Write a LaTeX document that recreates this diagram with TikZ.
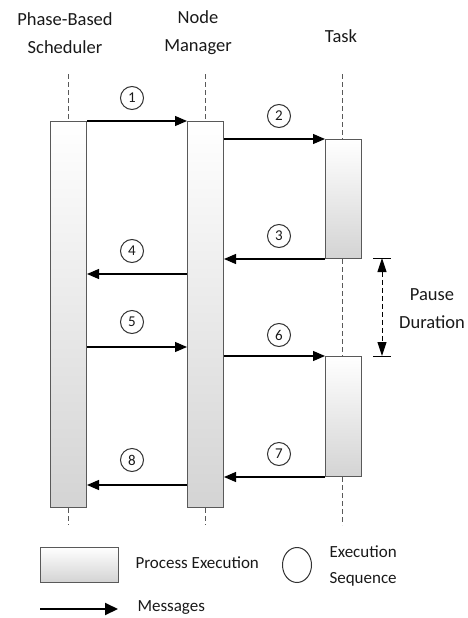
\documentclass[tikz,border=0pt]{standalone}
\usepackage{fontspec}
\setmainfont{Carlito}
\usetikzlibrary{arrows.meta,shapes.geometric}
\begin{document}
\begin{tikzpicture}[x=1pt,y=-1pt,
  every node/.style={text=black!90},
  bar/.style={draw=black!65, line width=1pt, top color=white, bottom color=black!17, minimum width=36pt, inner sep=0pt, anchor=north west},
  life/.style={draw=black!65, line width=0.8pt, dash pattern=on 5pt off 3pt},
  msg/.style={line width=1.2pt, -{Triangle[length=12pt,width=10pt]}},
  seq/.style={circle, draw=black!80, line width=1pt, minimum size=23pt, inner sep=0pt, font=\fontsize{15}{15}\selectfont},
  head/.style={font=\fontsize{18.5}{28}\selectfont, align=center},
  leg/.style={font=\fontsize{17}{26}\selectfont, align=left, anchor=west},
]
\useasboundingbox (0,0) rectangle (468,618);

% headers
\node[head] (hs) at (65,33) {Phase-Based\\Scheduler};
\node[head] (hn) at (198,33) {Node\\Manager};
\node[head] (ht) at (341,36) {Task};

% lifelines
\coordinate (ls) at (68,74);
\coordinate (ln) at (205,74);
\coordinate (lt) at (342,74);
\coordinate (lsb) at (68,525);
\coordinate (lnb) at (205,525);
\coordinate (ltb) at (342,525);

% bars
\node[bar, minimum height=386pt] (S) at (50,121) {};
\node[bar, minimum height=386pt] (N) at (187,121) {};
\node[bar, minimum height=119pt] (T1) at (325,139) {};
\node[bar, minimum height=120pt] (T2) at (325,356) {};

\draw[life] (ls) -- (ls |- S.north);
\draw[life] (ln) -- (ln |- N.north);
\draw[life] (lt) -- (lt |- T1.north);
\draw[life] (lt |- T1.south) -- (lt |- T2.north);
\draw[life] (ls |- S.south) -- (lsb);
\draw[life] (ln |- N.south) -- (lnb);
\draw[life] (lt |- T2.south) -- (ltb);

% message levels
\coordinate (m4) at (0,274);
\coordinate (m5) at (0,347);
\coordinate (m8) at (0,485);

\draw[msg] (S.north east) -- (N.north west);
\draw[msg] (N.east |- T1.north) -- (T1.north west);
\draw[msg] (T1.south west) -- (N.east |- T1.south);
\draw[msg] (N.west |- m4) -- (S.east |- m4);
\draw[msg] (S.east |- m5) -- (N.west |- m5);
\draw[msg] (N.east |- T2.north) -- (T2.north west);
\draw[msg] (T2.south west) -- (N.east |- T2.south);
\draw[msg] (N.west |- m8) -- (S.east |- m8);

% sequence labels
\node[seq] (c1) at (132,98) {1};
\node[seq] (c2) at (279,116) {2};
\node[seq] (c3) at (279,236) {3};
\node[seq] (c4) at (132,251) {4};
\node[seq] (c5) at (132,322) {5};
\node[seq] (c6) at (279,335) {6};
\node[seq] (c7) at (279,454) {7};
\node[seq] (c8) at (132,460) {8};

% pause duration
\coordinate (p1) at (382,258);
\coordinate (p2) at (382,356);
\draw[line width=1pt] (373,258) -- (391,258);
\draw[line width=1pt] (373,356) -- (391,356);
\draw[line width=1pt, dash pattern=on 5pt off 3pt, {Triangle[length=14pt,width=9pt]}-{Triangle[length=14pt,width=9pt]}] (p1) -- (p2);
\node[head] (pd) at (432,309) {Pause\\Duration};

% legend
\node[draw=black!65, line width=1pt, top color=white, bottom color=black!17, minimum width=78pt, minimum height=35pt, inner sep=0pt] (lb) at (79,564.5) {};
\node[leg] (lbt) at (132,563) {Process Execution};
\node[ellipse, draw=black!80, line width=1pt, minimum width=29pt, minimum height=35pt, inner sep=0pt] (le) at (297,565) {};
\node[leg] (let) at (326,566) {Execution\\Sequence};
\coordinate (la1) at (40,609);
\coordinate (la2) at (118,609);
\draw[line width=2pt, -{Triangle[length=13pt,width=12pt]}] (la1) -- (la2);
\node[leg] (lat) at (134,607) {Messages};
\end{tikzpicture}
\end{document}
